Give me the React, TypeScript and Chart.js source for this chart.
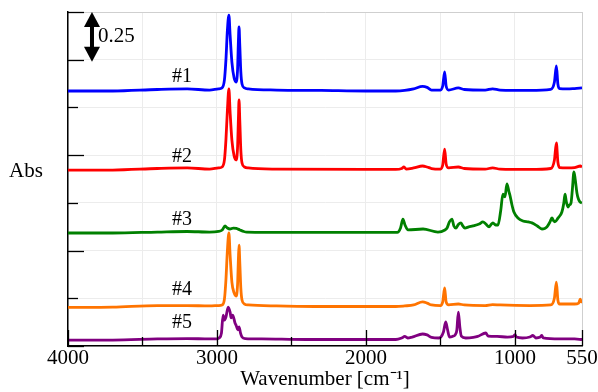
import React, { useEffect, useRef } from "react";
import { Chart, registerables } from "chart.js";

Chart.register(...registerables);

// ---- axis ticks ----
const X_TICKS = [4000, 3500, 3000, 2500, 2000, 1500, 1000, 550];
const X_LABELED = [4000, 3000, 2000, 1000, 550];
const Y_TICKS = [0, 0.25, 0.5, 0.75, 1, 1.25, 1.5, 1.75];

// ---- series ----
const SERIES_NAMES = ["#1", "#2", "#3", "#4", "#5"];
const SERIES_COLORS = ["#0000ff", "#ff0000", "#008000", "#ff7400", "#800080"];
const LABEL_WN = 3235;
const LABEL_ABS = [1.41, 0.99, 0.66, 0.293, 0.121];
const SCALE_BAR = 0.25;
const SCALE_BAR_WN = 3839;

// [wavenumber (cm-1), absorbance incl. offset]
const SPEC1: [number, number][] = [
  [4000, 1.336], [3700, 1.336], [3400, 1.344], [3200, 1.347], [3050, 1.341], [2990, 1.347],
  [2966, 1.352], [2950, 1.394], [2940, 1.499], [2930, 1.656], [2920, 1.734], [2912, 1.63],
  [2900, 1.488], [2885, 1.404], [2872, 1.383], [2862, 1.446], [2856, 1.603], [2852, 1.672],
  [2847, 1.577], [2840, 1.436], [2832, 1.373], [2815, 1.352], [2790, 1.347], [2600, 1.341],
  [2300, 1.339], [2000, 1.336], [1800, 1.336], [1740, 1.339], [1680, 1.347], [1620, 1.36],
  [1590, 1.355], [1560, 1.341], [1500, 1.341], [1485, 1.362], [1472, 1.436], [1462, 1.362],
  [1445, 1.341], [1380, 1.352], [1340, 1.344], [1200, 1.341], [1150, 1.347], [1100, 1.341],
  [900, 1.339], [760, 1.344], [735, 1.383], [722, 1.467], [712, 1.373], [700, 1.349],
  [650, 1.347], [600, 1.349], [550, 1.352],
];

const SPEC2: [number, number][] = [
  [4000, 0.922], [3700, 0.922], [3400, 0.93], [3200, 0.933], [3050, 0.927], [2990, 0.933],
  [2966, 0.938], [2950, 0.975], [2940, 1.079], [2930, 1.237], [2920, 1.347], [2912, 1.226],
  [2900, 1.079], [2885, 0.996], [2872, 0.975], [2862, 1.038], [2856, 1.195], [2852, 1.289],
  [2847, 1.184], [2840, 1.027], [2832, 0.959], [2815, 0.938], [2790, 0.933], [2600, 0.927],
  [2000, 0.925], [1800, 0.925], [1760, 0.93], [1745, 0.938], [1730, 0.927], [1680, 0.933],
  [1620, 0.943], [1590, 0.938], [1560, 0.93], [1500, 0.927], [1485, 0.948], [1472, 1.032],
  [1462, 0.954], [1445, 0.933], [1380, 0.938], [1340, 0.93], [1200, 0.927], [1150, 0.933],
  [1100, 0.927], [900, 0.925], [760, 0.93], [735, 0.975], [722, 1.064], [712, 0.964],
  [700, 0.935], [650, 0.933], [600, 0.935], [560, 0.943], [550, 0.938],
];

const SPEC3: [number, number][] = [
  [4000, 0.592], [3700, 0.592], [3400, 0.597], [3200, 0.6], [3050, 0.597], [2990, 0.6],
  [2965, 0.608], [2946, 0.629], [2930, 0.618], [2913, 0.613], [2890, 0.618], [2870, 0.616],
  [2846, 0.608], [2820, 0.6], [2800, 0.597], [2500, 0.595], [2200, 0.595], [1900, 0.595],
  [1790, 0.595], [1768, 0.618], [1752, 0.665], [1738, 0.634], [1718, 0.608], [1617, 0.613],
  [1517, 0.597], [1470, 0.608], [1456, 0.618], [1440, 0.65], [1423, 0.665], [1410, 0.629],
  [1396, 0.618], [1380, 0.637], [1362, 0.645], [1350, 0.629], [1336, 0.618], [1310, 0.624],
  [1282, 0.629], [1240, 0.639], [1215, 0.65], [1195, 0.639], [1174, 0.624], [1160, 0.637],
  [1148, 0.645], [1130, 0.634], [1114, 0.634], [1095, 0.713], [1081, 0.796], [1067, 0.781],
  [1054, 0.849], [1040, 0.807], [1034, 0.791], [1020, 0.739], [1007, 0.702], [980, 0.671],
  [946, 0.655], [910, 0.65], [886, 0.645], [850, 0.629], [819, 0.613], [800, 0.616],
  [785, 0.624], [765, 0.65], [752, 0.671], [740, 0.655], [732, 0.65], [710, 0.671],
  [685, 0.702], [672, 0.749], [664, 0.796], [655, 0.755], [644, 0.728], [635, 0.739],
  [624, 0.749], [615, 0.817], [604, 0.912], [595, 0.87], [584, 0.802], [574, 0.77],
  [564, 0.755], [550, 0.749],
];

const SPEC4: [number, number][] = [
  [4000, 0.202], [3700, 0.204], [3400, 0.212], [3200, 0.212], [3050, 0.21], [2990, 0.212],
  [2966, 0.215], [2950, 0.246], [2940, 0.346], [2930, 0.503], [2920, 0.592], [2912, 0.477],
  [2900, 0.335], [2885, 0.278], [2872, 0.262], [2862, 0.32], [2856, 0.461], [2852, 0.529],
  [2847, 0.44], [2840, 0.304], [2832, 0.241], [2815, 0.22], [2790, 0.215], [2600, 0.21],
  [2300, 0.207], [2000, 0.207], [1800, 0.207], [1740, 0.21], [1680, 0.215], [1620, 0.231],
  [1590, 0.225], [1560, 0.215], [1500, 0.212], [1485, 0.231], [1472, 0.304], [1462, 0.231],
  [1445, 0.215], [1380, 0.22], [1340, 0.215], [1200, 0.212], [1150, 0.217], [1100, 0.215],
  [900, 0.212], [760, 0.215], [735, 0.252], [722, 0.335], [712, 0.241], [700, 0.22],
  [650, 0.22], [600, 0.22], [572, 0.225], [562, 0.246], [555, 0.231], [550, 0.231],
];

const SPEC5: [number, number][] = [
  [4000, 0.031], [3700, 0.031], [3400, 0.037], [3200, 0.039], [3050, 0.037], [3000, 0.037],
  [2985, 0.042], [2970, 0.068], [2959, 0.162], [2950, 0.136], [2940, 0.152], [2925, 0.204],
  [2912, 0.178], [2905, 0.147], [2895, 0.162], [2879, 0.121], [2870, 0.105], [2860, 0.084],
  [2852, 0.1], [2842, 0.068], [2832, 0.047], [2810, 0.039], [2700, 0.037], [2400, 0.034],
  [2000, 0.034], [1800, 0.034], [1760, 0.042], [1740, 0.05], [1720, 0.042], [1690, 0.047],
  [1620, 0.063], [1590, 0.058], [1560, 0.045], [1510, 0.042], [1480, 0.073], [1465, 0.126],
  [1452, 0.084], [1440, 0.047], [1420, 0.05], [1400, 0.06], [1390, 0.084], [1380, 0.178],
  [1370, 0.1], [1360, 0.052], [1330, 0.042], [1280, 0.045], [1250, 0.05], [1196, 0.068],
  [1180, 0.052], [1120, 0.05], [1050, 0.047], [1010, 0.05], [1000, 0.06], [990, 0.047],
  [950, 0.042], [900, 0.047], [880, 0.055], [860, 0.042], [830, 0.047], [820, 0.055],
  [810, 0.042], [700, 0.037], [600, 0.037], [550, 0.034],
];

const SPECTRA = [SPEC1, SPEC2, SPEC3, SPEC4, SPEC5];

const FONT = '"Liberation Serif", "Times New Roman", serif';

const overlayPlugin = {
  id: "overlay",
  afterDraw(chart: any) {
    const { ctx, chartArea, scales } = chart;
    const xs = scales.x;
    const ys = scales.y;
    ctx.save();
    // inner tick marks
    ctx.strokeStyle = "#000";
    ctx.lineWidth = 1.3;
    Y_TICKS.forEach((v, i) => {
      const py = Math.round(ys.getPixelForValue(v)) + 0.5;
      const len = i % 2 === 0 || i === Y_TICKS.length - 1 ? 16 : 10;
      ctx.beginPath();
      ctx.moveTo(chartArea.left, py);
      ctx.lineTo(chartArea.left + len, py);
      ctx.stroke();
    });
    X_TICKS.forEach((v) => {
      const px = Math.round(xs.getPixelForValue(v)) + 0.5;
      const len = X_LABELED.includes(v) ? 16 : 9;
      ctx.beginPath();
      ctx.moveTo(px, chartArea.bottom);
      ctx.lineTo(px, chartArea.bottom - len);
      ctx.stroke();
    });
    // series labels
    ctx.fillStyle = "#000";
    ctx.textAlign = "center";
    ctx.textBaseline = "middle";
    ctx.font = `20px ${FONT}`;
    SERIES_NAMES.forEach((n, i) => {
      ctx.fillText(n, xs.getPixelForValue(LABEL_WN), ys.getPixelForValue(LABEL_ABS[i]));
    });
    // y axis label
    ctx.font = `21px ${FONT}`;
    ctx.fillText("Abs", chartArea.left - 42, (chartArea.top + chartArea.bottom) / 2 - 8);
    // scale bar arrow
    const ax = xs.getPixelForValue(SCALE_BAR_WN);
    const top = ys.getPixelForValue(ys.max);
    const bot = ys.getPixelForValue(ys.max - SCALE_BAR) + 2;
    const hw = 8;
    const hh = 15;
    ctx.beginPath();
    ctx.moveTo(ax, top);
    ctx.lineTo(ax + hw, top + hh);
    ctx.lineTo(ax - hw, top + hh);
    ctx.closePath();
    ctx.fill();
    ctx.beginPath();
    ctx.moveTo(ax, bot);
    ctx.lineTo(ax + hw, bot - hh);
    ctx.lineTo(ax - hw, bot - hh);
    ctx.closePath();
    ctx.fill();
    ctx.fillRect(ax - 2, top + hh - 1, 4, bot - top - 2 * hh + 2);
    ctx.textAlign = "left";
    ctx.fillText(String(SCALE_BAR), ax + 6, (top + bot) / 2);
    ctx.restore();
  },
};

export default function App() {
  const ref = useRef<HTMLCanvasElement>(null);
  useEffect(() => {
    if (!ref.current) return;
    const chart = new Chart(ref.current, {
      type: "line",
      data: {
        datasets: SPECTRA.map((s, i) => ({
          label: SERIES_NAMES[i],
          data: s.map(([wn, a]) => ({ x: wn, y: a })),
          borderColor: SERIES_COLORS[i],
          backgroundColor: SERIES_COLORS[i],
          borderWidth: 2.8,
          pointRadius: 0,
          fill: false,
          cubicInterpolationMode: "monotone" as const,
        })),
      },
      options: {
        animation: false,
        responsive: false,
        devicePixelRatio: 1,
        layout: { padding: { top: 12, right: 16, left: 0, bottom: 0 } },
        plugins: { legend: { display: false }, tooltip: { enabled: false } },
        scales: {
          x: {
            type: "linear",
            reverse: true,
            min: 550,
            max: 4000,
            afterBuildTicks: (s: any) => {
              s.ticks = X_TICKS.map((v) => ({ value: v }));
            },
            afterFit: (s: any) => {
              s.height = 46;
            },
            ticks: {
              autoSkip: false,
              maxRotation: 0,
              padding: 0,
              color: "#000",
              font: { family: FONT, size: 21 },
              callback: (v: any) => (X_LABELED.includes(Number(v)) ? String(v) : ""),
            },
            grid: {
              drawTicks: false,
              color: (c: any) => (c.tick && c.tick.value === 550 ? "#cfcfcf" : "#ececec"),
            },
            border: { color: "#000", width: 1.5 },
            title: {
              display: true,
              text: "Wavenumber [cm⁻¹]",
              color: "#000",
              font: { family: FONT, size: 21 },
              padding: { top: 0, bottom: 0 },
            },
          },
          y: {
            min: 0,
            max: 1.75,
            afterBuildTicks: (s: any) => {
              s.ticks = Y_TICKS.map((v) => ({ value: v }));
            },
            afterFit: (s: any) => {
              s.width = 68;
            },
            ticks: { display: false },
            grid: {
              drawTicks: false,
              color: (c: any) => (c.tick && c.tick.value === 1.75 ? "#cfcfcf" : "#ececec"),
            },
            border: { color: "#000", width: 1.5 },
          },
        },
      },
      plugins: [overlayPlugin],
    });
    return () => chart.destroy();
  }, []);
  return (
    <div style={{ position: "absolute", left: 0, top: 0, width: 598, height: 392, background: "#fff" }}>
      <canvas ref={ref} width={598} height={392} style={{ display: "block" }} />
    </div>
  );
}
